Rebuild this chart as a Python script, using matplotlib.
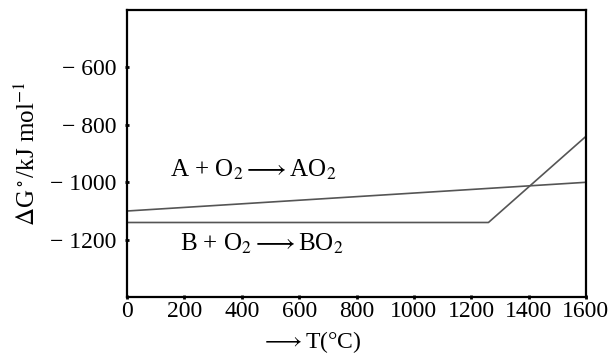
import matplotlib
matplotlib.use("Agg")
import matplotlib.pyplot as plt

plt.rcParams['font.family'] = ['Liberation Serif', 'DejaVu Serif']
plt.rcParams['mathtext.fontset'] = 'stix'

# data
temp_a = [0, 1600]
dg_a = [-1100, -1000]
temp_b = [0, 1260, 1600]
dg_b = [-1140, -1140, -840]
xticks = [0, 200, 400, 600, 800, 1000, 1200, 1400, 1600]
yticks = [-600, -800, -1000, -1200]

fig = plt.figure(figsize=(6.11, 3.58), dpi=100)
ax = fig.add_axes([0.208, 0.170, 0.751, 0.802])

ax.plot(temp_a, dg_a, color='#555555', lw=1.2)
ax.plot(temp_b, dg_b, color='#555555', lw=1.2)

ax.set_xlim(0, 1600)
ax.set_ylim(-1400, -400)
ax.set_xticks(xticks)
ax.set_yticks(yticks)
ax.set_yticklabels(['\u2212 ' + str(-v) for v in yticks])
for s in ax.spines.values():
    s.set_linewidth(1.6)
ax.tick_params(direction='inout', length=3, width=2, labelsize=17)
ax.tick_params(axis='y', pad=6)
ax.tick_params(axis='x', pad=1)

ax.text(150, -955, r'A + O$_2$$\longrightarrow$AO$_2$', fontsize=18, ha='left', va='center')
ax.text(185, -1215, r'B + O$_2$$\longrightarrow$BO$_2$', fontsize=18, ha='left', va='center')

ax.set_ylabel(r'$\Delta$G$^\circ$/kJ mol$^{-1}$', fontsize=18)
ax.yaxis.set_label_coords(-0.19, 0.5)
fig.text(311 / 611, 0.045, r'$\longrightarrow$T(°C)', fontsize=17, ha='center', va='center')

fig.savefig('out.png', dpi=100)
